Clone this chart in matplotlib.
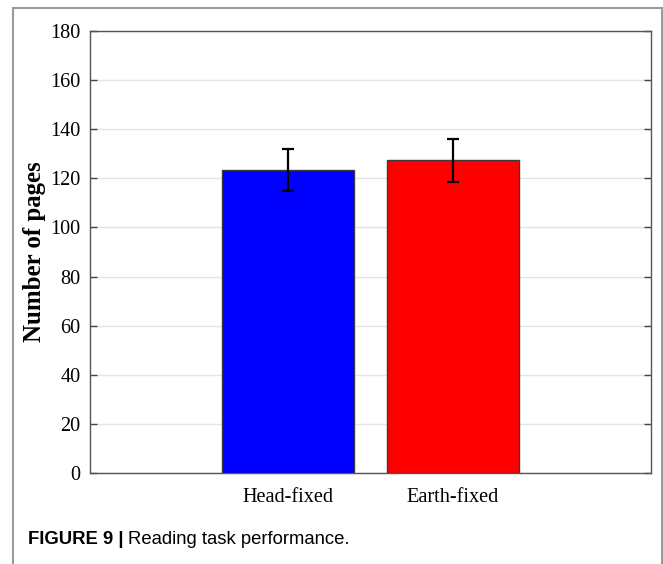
import numpy as np
import matplotlib.pyplot as plt
from matplotlib.patches import Rectangle

# data
conditions = ['Head-fixed', 'Earth-fixed']
pages_mean = [123.5, 127.4]
pages_err = [8.5, 8.7]
bar_colors = ['#0000ff', '#ff0000']

fig = plt.figure(figsize=(6.63, 5.64), dpi=100)
ax = fig.add_axes([0.1362, 0.1613, 0.8452, 0.7837])

x = np.arange(1, len(conditions) + 1)
ax.bar(x, pages_mean, width=0.8, color=bar_colors, edgecolor='#3a3a3a',
       linewidth=1.0, zorder=3)
ax.errorbar(x, pages_mean, yerr=pages_err, fmt='none', ecolor='black',
            elinewidth=1.6, capsize=4, capthick=1.6, zorder=4)

ax.set_xlim(-0.2, 3.2)
ax.set_ylim(0, 180)
ax.set_yticks(np.arange(0, 181, 20))
ax.set_xticks(x)
ax.set_xticklabels(conditions)
ax.yaxis.grid(True, color='#e4e4e4', linewidth=1.0, zorder=0)
ax.set_axisbelow(True)

for s in ax.spines.values():
    s.set_color('#555555')
    s.set_linewidth(1.0)
ax.tick_params(direction='in', length=5, color='#444444', width=1.0,
               right=True, top=False, labelsize=14.6, pad=7)
for lab in ax.get_xticklabels() + ax.get_yticklabels():
    lab.set_fontfamily('Liberation Serif')
ax.tick_params(axis='x', pad=11)

ax.set_ylabel('Number of pages', fontfamily='Liberation Serif',
              fontweight='bold', fontsize=17.9, labelpad=3)

# outer frame of the figure panel
frame = Rectangle((13 / 663, -0.05), 649 / 663, (564 - 8) / 564 + 0.05,
                  transform=fig.transFigure, fill=False,
                  edgecolor='#9a9a9a', linewidth=1.5, clip_on=False)
fig.patches.append(frame)

cap_y = 1 - 540 / 564
t1 = fig.text(28 / 663, cap_y, 'FIGURE 9 |', fontfamily='Liberation Sans',
              fontweight='bold', fontsize=13.3, va='center', ha='left')
fig.canvas.draw()
bb = t1.get_window_extent()
fig.text((bb.x1 + 4) / 663, cap_y, 'Reading task performance.',
         fontfamily='Liberation Sans', fontsize=13.3, va='center', ha='left')

fig.savefig('out.png', dpi=100)
